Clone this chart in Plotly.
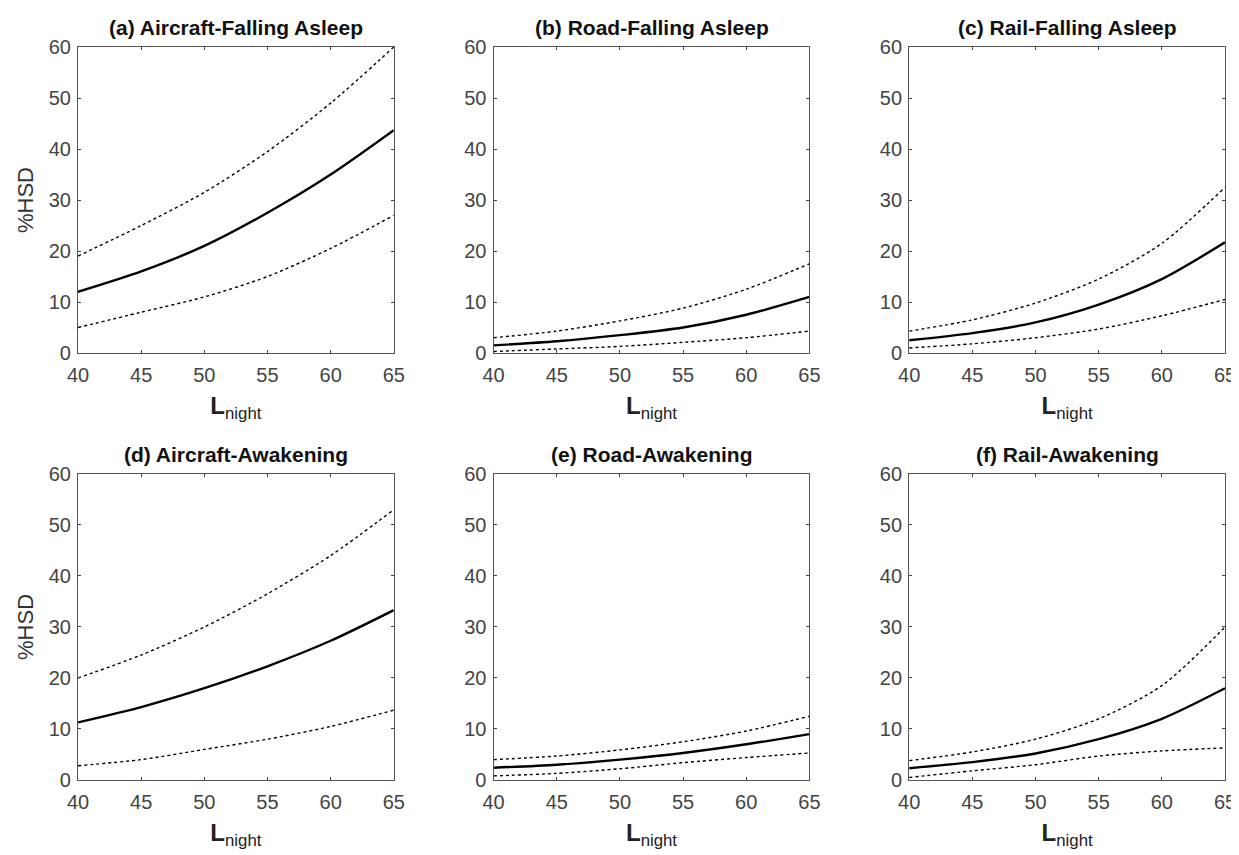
import plotly.graph_objects as go
from plotly.subplots import make_subplots

x_lnight = [40, 45, 50, 55, 60, 65]

titles = ["(a) Aircraft-Falling Asleep", "(b) Road-Falling Asleep", "(c) Rail-Falling Asleep",
          "(d) Aircraft-Awakening", "(e) Road-Awakening", "(f) Rail-Awakening"]

a_mid = [12.0, 16.0, 21.0, 27.5, 35.0, 43.7]
a_up = [19.0, 25.0, 31.5, 39.5, 49.0, 60.0]
a_lo = [5.0, 8.0, 11.0, 15.0, 20.5, 27.0]

b_mid = [1.5, 2.3, 3.5, 5.0, 7.5, 11.0]
b_up = [3.0, 4.3, 6.3, 8.8, 12.5, 17.5]
b_lo = [0.3, 0.8, 1.3, 2.1, 3.0, 4.3]

c_mid = [2.5, 3.9, 6.0, 9.5, 14.5, 21.7]
c_up = [4.3, 6.5, 9.8, 14.5, 21.5, 32.5]
c_lo = [1.0, 1.8, 3.0, 4.7, 7.3, 10.5]

d_mid = [11.3, 14.3, 18.0, 22.3, 27.3, 33.3]
d_up = [20.0, 24.5, 30.0, 36.5, 44.0, 53.0]
d_lo = [2.8, 4.0, 6.0, 8.0, 10.5, 13.7]

e_mid = [2.4, 3.0, 4.0, 5.3, 7.0, 9.0]
e_up = [4.0, 4.7, 5.9, 7.5, 9.6, 12.5]
e_lo = [0.8, 1.3, 2.2, 3.4, 4.4, 5.3]

f_mid = [2.3, 3.5, 5.2, 8.0, 12.0, 18.0]
f_up = [3.8, 5.5, 8.0, 12.0, 18.5, 30.0]
f_lo = [0.5, 1.8, 3.0, 4.7, 5.7, 6.3]

panels = [(a_mid, a_up, a_lo), (b_mid, b_up, b_lo), (c_mid, c_up, c_lo),
          (d_mid, d_up, d_lo), (e_mid, e_up, e_lo), (f_mid, f_up, f_lo)]

x_ticks = [40, 45, 50, 55, 60, 65]
y_ticks = [0, 10, 20, 30, 40, 50, 60]

fig = make_subplots(rows=2, cols=3, subplot_titles=["<b>%s</b>" % t for t in titles],
                    horizontal_spacing=0.087, vertical_spacing=0.165)

for i, (mid, up, lo) in enumerate(panels):
    r = i // 3 + 1
    c = i % 3 + 1
    for ys, dash, w in [(up, "dot", 1.4), (lo, "dot", 1.4), (mid, "solid", 2.4)]:
        fig.add_trace(go.Scatter(x=x_lnight, y=ys, mode="lines",
                                 line=dict(color="black", width=w, dash=dash, shape="spline", smoothing=0.8),
                                 showlegend=False, hoverinfo="skip"), row=r, col=c)
    fig.update_xaxes(range=[40, 65], tickvals=x_ticks, ticks="inside", ticklen=3,
                     showline=True, linecolor="#555", linewidth=1.2, mirror="ticks",
                     showgrid=False, zeroline=False, ticklabelstandoff=4,
                     tickfont=dict(size=20, color="#444"),
                     title=dict(text="<b>L</b><sub>night</sub>", font=dict(size=24, color="#222"), standoff=12),
                     row=r, col=c)
    fig.update_yaxes(range=[0, 60], tickvals=y_ticks, ticks="inside", ticklen=3,
                     showline=True, linecolor="#555", linewidth=1.2, mirror="ticks",
                     showgrid=False, zeroline=False, ticklabelstandoff=2,
                     tickfont=dict(size=20, color="#444"),
                     row=r, col=c)
    if c == 1:
        fig.update_yaxes(title=dict(text="%HSD", font=dict(size=22, color="#333"), standoff=8), row=r, col=c)

for ann in fig.layout.annotations:
    ann.font = dict(size=21, color="#111", family="Liberation Sans, Arial, sans-serif")
    ann.yshift = 6

fig.update_layout(width=1239, height=855, plot_bgcolor="white", paper_bgcolor="white",
                  margin=dict(l=70, r=22, t=39, b=83),
                  font=dict(family="Liberation Sans, Arial, sans-serif"))

fig.write_html("out.html")
